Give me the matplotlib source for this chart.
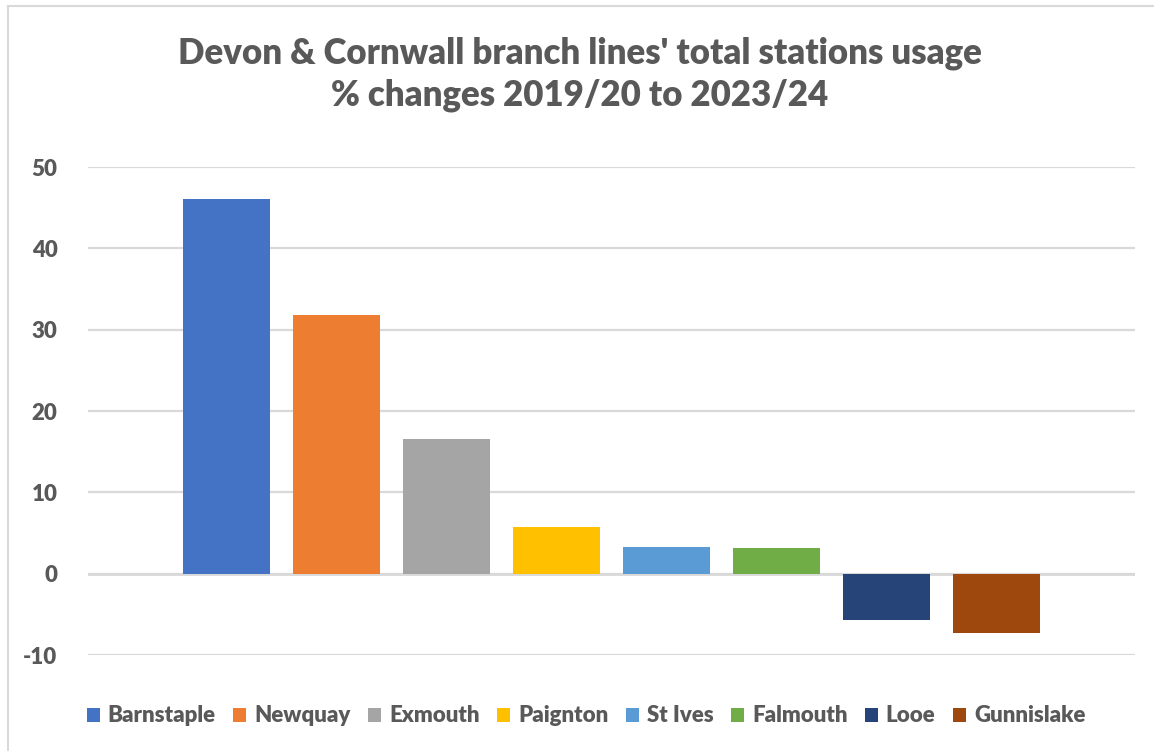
import matplotlib
matplotlib.use("Agg")
import matplotlib.pyplot as plt
from matplotlib.patches import Patch
from matplotlib.lines import Line2D

stations = ["Barnstaple", "Newquay", "Exmouth", "Paignton", "St Ives", "Falmouth", "Looe", "Gunnislake"]
changes = [46.1, 31.8, 16.6, 5.7, 3.3, 3.2, -5.7, -7.3]
colors = ["#4472C4", "#ED7D31", "#A5A5A5", "#FFC000", "#5B9BD5", "#70AD47", "#264478", "#9E480E"]
yticks = [-10, 0, 10, 20, 30, 40, 50]
title = "Devon & Cornwall branch lines' total stations usage\n% changes 2019/20 to 2023/24"

plt.rcParams['font.family'] = ['Lato', 'DejaVu Sans']
W, H = 1154, 751
fig = plt.figure(figsize=(W/100, H/100), dpi=100)
ax = fig.add_axes([88/W, 96/H, (1135-88)/W, (655-167)/H])

gray = "#595959"
for i, (s, v, c) in enumerate(zip(stations, changes, colors)):
    ax.bar(i, v, width=0.79, color=c, label=s, zorder=3)

ax.set_xlim(-1.259, 8.259)
ax.set_ylim(-10, 50)
ax.set_yticks(yticks)
ax.set_yticklabels([str(t) for t in yticks], fontsize=16, fontweight='heavy', color=gray)
ax.set_xticks([])
ax.grid(axis='y', color="#D9D9D9", linewidth=1.6, zorder=0)
ax.axhline(0, color="#D9D9D9", linewidth=2.0, zorder=2)
for sp in ax.spines.values():
    sp.set_visible(False)
ax.tick_params(axis='y', length=0, pad=22)

fig.text(580/W, 1-74/H, title, ha='center', va='center', fontsize=25, fontweight='heavy',
         color=gray, linespacing=1.3)

handles = [Patch(facecolor=c, edgecolor='none') for c in colors]
leg = fig.legend(handles, stations, loc='center', bbox_to_anchor=(586/W, 1-716/H), ncol=8,
                 frameon=False, handlelength=0.6, handleheight=0.6, handletextpad=0.35,
                 columnspacing=0.78, prop={'size': 16, 'weight': 'heavy'})
for t in leg.get_texts():
    t.set_color(gray)

# chart border
fig.add_artist(Line2D([8/W, 8/W], [0, 1-6/H], transform=fig.transFigure, color="#D9D9D9", lw=1.5))
fig.add_artist(Line2D([8/W, 1], [1-6/H, 1-6/H], transform=fig.transFigure, color="#D9D9D9", lw=1.5))

fig.savefig("out.png", dpi=100)
